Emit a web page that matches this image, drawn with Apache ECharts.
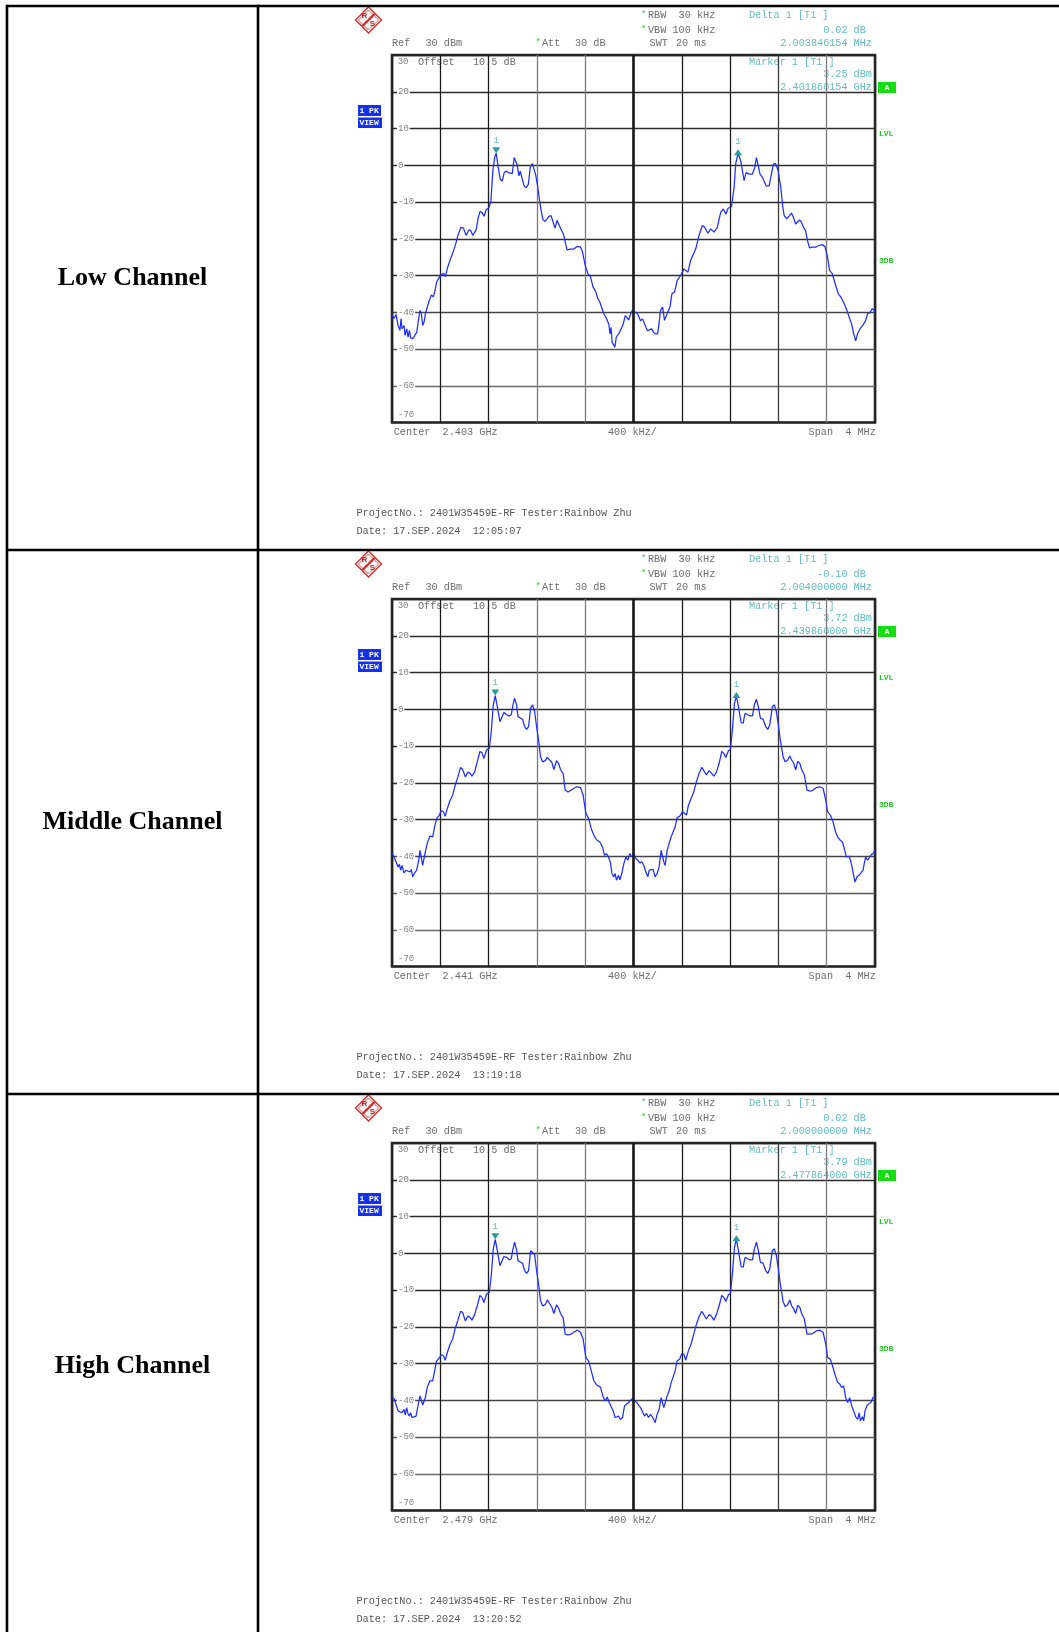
<!DOCTYPE html>
<html>
<head>
<meta charset="utf-8">
<script src="https://cdn.jsdelivr.net/npm/echarts@6/dist/echarts.min.js"></script>
<style>
html,body{margin:0;padding:0;background:#fff;}
#c{width:1059px;height:1632px;}
</style>
</head>
<body>
<div id="c"></div>
<script>
// ---------------- DATA ----------------
const channelNames = ['Low Channel', 'Middle Channel', 'High Channel'];
const centerFreqs = ['2.403 GHz', '2.441 GHz', '2.479 GHz'];
const deltaLevels = ['0.02', '-0.10', '0.02'];
const deltaFreqs = ['2.003846154', '2.004000000', '2.000000000'];
const markerLevels = ['3.25', '3.72', '3.79'];
const markerFreqs = ['2.401860154', '2.439860000', '2.477864000'];
const dateStamps = ['17.SEP.2024  12:05:07', '17.SEP.2024  13:19:18', '17.SEP.2024  13:20:52'];
const projectLine = 'ProjectNo.: 2401W35459E-RF Tester:Rainbow Zhu';
const levelMin = -70, levelMax = 30, levelStep = 10;   // dBm
const freqMin = -2, freqMax = 2, freqStep = 0.4;       // MHz offset from center

const lowFreq = [-2.000,-1.983,-1.967,-1.950,-1.934,-1.925,-1.917,-1.900,-1.892,-1.878,
-1.867,-1.856,-1.845,-1.828,-1.812,-1.795,-1.779,-1.768,-1.757,-1.746,
-1.734,-1.723,-1.707,-1.690,-1.674,-1.657,-1.646,-1.629,-1.613,-1.596,
-1.574,-1.557,-1.541,-1.519,-1.497,-1.474,-1.452,-1.430,-1.408,-1.386,
-1.364,-1.347,-1.331,-1.303,-1.286,-1.270,-1.253,-1.237,-1.220,-1.198,
-1.181,-1.165,-1.148,-1.137,-1.120,-1.104,-1.087,-1.071,-1.054,-1.037,
-1.021,-1.004,-0.988,-0.976,-0.965,-0.949,-0.938,-0.921,-0.905,-0.888,
-0.871,-0.855,-0.838,-0.827,-0.811,-0.794,-0.777,-0.766,-0.750,-0.733,
-0.716,-0.700,-0.683,-0.667,-0.650,-0.633,-0.617,-0.600,-0.578,-0.567,
-0.550,-0.523,-0.495,-0.467,-0.440,-0.423,-0.401,-0.379,-0.357,-0.335,
-0.313,-0.296,-0.279,-0.263,-0.246,-0.228,-0.205,-0.194,-0.186,-0.177,
-0.166,-0.154,-0.143,-0.129,-0.114,-0.100,-0.085,-0.068,-0.057,-0.040,
-0.028,-0.011,0.000,0.017,0.035,0.058,0.075,0.092,0.115,0.132,
0.150,0.166,0.183,0.200,0.210,0.224,0.241,0.257,0.268,0.285,
0.302,0.318,0.340,0.362,0.390,0.418,0.451,0.473,0.515,0.542,
0.570,0.589,0.617,0.639,0.667,0.694,0.722,0.744,0.766,0.783,
0.811,0.833,0.846,0.866,0.888,0.916,0.932,0.957,0.985,1.004,
1.018,1.032,1.048,1.068,1.082,1.098,1.123,1.142,1.159,1.176,
1.198,1.220,1.237,1.248,1.270,1.292,1.308,1.325,1.342,1.358,
1.375,1.391,1.408,1.425,1.441,1.458,1.480,1.508,1.530,1.563,
1.585,1.607,1.624,1.646,1.662,1.679,1.696,1.718,1.745,1.768,
1.790,1.806,1.823,1.840,1.856,1.878,1.900,1.923,1.939,1.956,
1.978,2.000];
const lowLevel = [-40.8,-41.7,-40.6,-43.6,-44.9,-41.7,-44.5,-43.6,-46.3,-44.5,
-46.8,-44.9,-47.0,-47.2,-47.7,-45.4,-41.7,-39.5,-40.4,-43.6,
-42.6,-40.4,-38.5,-36.7,-35.3,-35.8,-34.4,-31.7,-30.8,-29.9,
-29.4,-30.3,-28.0,-25.8,-23.9,-21.6,-18.9,-16.9,-17.1,-19.1,
-17.6,-17.8,-19.1,-17.6,-14.3,-12.5,-12.9,-13.9,-12.1,-11.6,
-9.8,-1.6,2.4,3.25,-0.6,-3.8,-4.3,-2.0,-1.6,-2.0,
-2.5,-2.3,2.1,2.3,0.3,-2.9,-1.6,-3.8,-5.7,-6.1,
-5.2,-0.6,0.5,0.3,-2.5,-5.7,-9.8,-12.1,-14.8,-15.3,
-14.6,-13.9,-13.7,-15.3,-17.1,-15.0,-16.2,-17.5,-18.9,-20.7,
-23.0,-22.8,-22.8,-22.1,-22.2,-23.5,-27.1,-29.4,-30.3,-33.1,
-34.4,-36.3,-37.2,-37.6,-40.4,-41.4,-43.2,-45.9,-44.1,-48.2,
-48.6,-49.5,-46.8,-47.3,-45.4,-45.0,-43.2,-40.9,-40.5,-42.1,
-40.9,-39.5,-39.1,-40.0,-40.5,-42.3,-41.8,-43.2,-45.0,-44.8,
-44.5,-45.4,-45.9,-45.9,-43.5,-39.5,-38.6,-42.2,-42.6,-39.9,
-38.6,-35.0,-34.5,-31.3,-30.0,-28.2,-29.1,-25.9,-22.8,-19.2,
-16.4,-16.9,-18.5,-17.3,-18.2,-16.9,-12.8,-11.9,-13.3,-11.7,
-11.3,-6.1,0.3,3.27,1.2,-4.2,-2.0,-2.4,-2.4,-0.6,
2.1,1.9,-2.4,-3.3,-2.9,-5.6,-5.6,-2.4,0.3,0.5,
-1.5,-6.1,-11.5,-13.7,-14.6,-13.7,-13.0,-14.2,-16.0,-16.4,
-14.9,-15.5,-16.9,-17.8,-20.5,-22.5,-22.3,-22.3,-21.9,-21.6,
-22.1,-25.0,-28.6,-29.5,-31.3,-33.2,-35.0,-35.9,-37.7,-39.5,
-41.7,-43.1,-45.8,-47.8,-45.8,-44.4,-43.5,-42.2,-40.4,-40.2,
-39.0,-39.8];

const midFreq = [-2.000,-1.983,-1.967,-1.950,-1.939,-1.928,-1.917,-1.901,-1.884,-1.868,
-1.851,-1.840,-1.829,-1.812,-1.796,-1.779,-1.768,-1.757,-1.746,-1.735,
-1.724,-1.708,-1.686,-1.663,-1.647,-1.630,-1.608,-1.592,-1.575,-1.559,
-1.542,-1.520,-1.498,-1.476,-1.454,-1.432,-1.415,-1.393,-1.371,-1.354,
-1.338,-1.316,-1.294,-1.272,-1.255,-1.239,-1.217,-1.194,-1.178,-1.161,
-1.145,-1.128,-1.106,-1.090,-1.073,-1.051,-1.029,-1.012,-1.001,-0.985,
-0.968,-0.957,-0.941,-0.919,-0.902,-0.886,-0.869,-0.852,-0.836,-0.819,
-0.803,-0.786,-0.770,-0.753,-0.731,-0.714,-0.698,-0.676,-0.659,-0.637,
-0.621,-0.604,-0.582,-0.566,-0.543,-0.516,-0.494,-0.466,-0.439,-0.417,
-0.394,-0.372,-0.350,-0.328,-0.306,-0.279,-0.257,-0.240,-0.223,-0.207,
-0.190,-0.179,-0.163,-0.152,-0.141,-0.124,-0.113,-0.097,-0.080,-0.063,
-0.047,-0.030,-0.014,0.003,0.019,0.036,0.052,0.069,0.086,0.102,
0.119,0.130,0.146,0.163,0.179,0.196,0.212,0.229,0.240,0.251,
0.262,0.279,0.295,0.312,0.328,0.345,0.361,0.383,0.406,0.422,
0.439,0.455,0.477,0.499,0.521,0.543,0.566,0.582,0.604,0.626,
0.643,0.665,0.687,0.709,0.731,0.748,0.764,0.786,0.803,0.819,
0.836,0.852,0.869,0.891,0.908,0.924,0.946,0.968,0.985,1.001,
1.018,1.034,1.051,1.073,1.095,1.112,1.128,1.150,1.167,1.183,
1.200,1.216,1.239,1.255,1.277,1.294,1.310,1.327,1.343,1.360,
1.377,1.393,1.415,1.437,1.465,1.487,1.515,1.542,1.570,1.592,
1.608,1.630,1.652,1.674,1.691,1.708,1.730,1.746,1.763,1.785,
1.801,1.818,1.834,1.851,1.868,1.884,1.901,1.912,1.923,1.939,
1.956,1.972,1.989,2.000];
const midLevel = [-39.1,-40.2,-41.5,-42.9,-42.2,-43.8,-42.5,-44.5,-43.8,-43.6,
-44.3,-43.6,-45.6,-44.5,-43.8,-41.1,-38.4,-38.5,-42.5,-42.5,
-38.8,-36.5,-34.5,-34.7,-32.0,-29.7,-28.8,-27.6,-27.9,-29.1,
-27.0,-24.9,-23.4,-20.6,-18.4,-15.8,-16.4,-18.4,-17.1,-17.4,
-18.2,-17.1,-14.3,-11.5,-11.8,-13.4,-11.1,-10.6,-6.1,1.2,
3.72,0.7,-3.4,-3.8,-0.9,-1.5,-1.8,-1.5,0.7,3.0,
1.2,-2.0,-2.5,-2.7,-4.7,-5.5,-4.7,0.3,1.2,-0.6,
-4.7,-8.4,-12.9,-14.3,-14.0,-13.1,-12.7,-14.5,-16.4,-14.0,
-14.7,-16.4,-17.6,-22.0,-22.5,-22.0,-21.5,-21.1,-21.3,-23.4,
-28.4,-29.7,-32.5,-34.3,-35.5,-36.1,-37.5,-39.7,-39.3,-40.2,
-41.8,-44.7,-45.6,-44.7,-46.5,-45.2,-46.4,-44.7,-42.0,-40.2,
-41.1,-39.3,-40.2,-39.3,-40.6,-41.1,-41.8,-41.5,-42.5,-44.3,
-45.6,-43.8,-44.3,-43.6,-45.6,-44.7,-42.9,-38.4,-37.9,-41.5,
-42.5,-38.4,-36.5,-34.7,-34.3,-32.0,-29.5,-29.1,-27.9,-28.2,
-28.8,-26.1,-24.3,-22.5,-19.7,-17.5,-15.8,-16.1,-17.9,-16.7,
-17.3,-18.2,-17.1,-14.7,-11.5,-12.0,-13.1,-11.3,-10.9,-5.6,
1.6,3.62,0.7,-3.6,-3.8,-1.1,-1.5,-1.8,-1.8,1.2,
2.7,0.7,-2.5,-2.7,-4.7,-5.5,-4.3,0.7,1.2,-0.6,
-4.3,-8.4,-12.9,-14.3,-13.8,-12.7,-13.8,-14.7,-16.5,-14.2,
-14.7,-16.4,-17.9,-22.0,-22.3,-22.0,-21.3,-21.1,-21.5,-24.7,
-27.9,-28.8,-30.6,-33.4,-34.7,-35.5,-36.1,-37.9,-40.2,-40.0,
-41.5,-44.3,-47.0,-45.6,-45.2,-45.6,-43.8,-41.8,-40.2,-41.1,
-40.2,-39.5,-39.1,-38.4];

const highFreq = [-2.000,-1.983,-1.967,-1.950,-1.934,-1.917,-1.901,-1.890,-1.879,-1.868,
-1.857,-1.846,-1.834,-1.818,-1.801,-1.785,-1.768,-1.757,-1.746,-1.735,
-1.724,-1.708,-1.686,-1.663,-1.647,-1.630,-1.608,-1.592,-1.575,-1.559,
-1.542,-1.520,-1.498,-1.476,-1.454,-1.432,-1.415,-1.393,-1.371,-1.354,
-1.338,-1.316,-1.294,-1.272,-1.255,-1.239,-1.217,-1.194,-1.178,-1.161,
-1.145,-1.128,-1.106,-1.090,-1.073,-1.051,-1.029,-1.012,-1.001,-0.985,
-0.968,-0.957,-0.941,-0.919,-0.902,-0.886,-0.869,-0.852,-0.836,-0.819,
-0.803,-0.786,-0.770,-0.753,-0.731,-0.714,-0.698,-0.676,-0.659,-0.637,
-0.621,-0.604,-0.582,-0.566,-0.543,-0.516,-0.494,-0.466,-0.439,-0.417,
-0.394,-0.372,-0.350,-0.328,-0.306,-0.290,-0.273,-0.251,-0.234,-0.218,
-0.201,-0.185,-0.168,-0.152,-0.141,-0.124,-0.108,-0.091,-0.074,-0.058,
-0.041,-0.025,-0.008,0.008,0.025,0.041,0.058,0.074,0.091,0.108,
0.124,0.141,0.157,0.168,0.179,0.196,0.212,0.229,0.240,0.251,
0.262,0.279,0.295,0.312,0.328,0.345,0.361,0.383,0.400,0.417,
0.433,0.455,0.477,0.499,0.521,0.543,0.566,0.582,0.604,0.626,
0.643,0.665,0.687,0.709,0.731,0.748,0.764,0.786,0.803,0.819,
0.836,0.852,0.869,0.891,0.908,0.924,0.946,0.968,0.985,1.001,
1.018,1.034,1.051,1.073,1.095,1.112,1.128,1.150,1.167,1.183,
1.200,1.216,1.239,1.255,1.277,1.294,1.310,1.327,1.343,1.360,
1.377,1.393,1.415,1.437,1.465,1.487,1.515,1.542,1.570,1.592,
1.608,1.630,1.652,1.674,1.691,1.708,1.724,1.741,1.757,1.774,
1.790,1.807,1.823,1.840,1.857,1.868,1.879,1.895,1.906,1.917,
1.934,1.950,1.967,1.983,2.000];
const highLevel = [-39.1,-39.5,-41.1,-42.9,-43.4,-43.4,-42.5,-44.0,-42.0,-43.6,
-44.3,-43.4,-44.7,-45.2,-44.3,-41.5,-38.8,-38.5,-41.3,-41.1,
-39.3,-36.5,-34.7,-34.7,-32.0,-29.3,-28.5,-27.6,-27.9,-29.1,
-27.0,-24.9,-23.4,-20.4,-18.2,-15.8,-16.1,-18.4,-17.1,-17.4,
-18.2,-16.7,-14.3,-11.5,-12.0,-13.4,-11.1,-10.6,-6.1,1.2,
3.79,0.7,-3.4,-3.8,-0.9,-1.1,-1.8,-1.5,0.7,3.0,
0.9,-2.0,-2.5,-2.7,-4.7,-5.5,-4.7,0.7,1.2,-0.4,
-4.7,-8.4,-12.9,-14.3,-14.0,-12.7,-13.1,-14.7,-16.4,-14.0,
-14.9,-16.4,-17.6,-22.0,-22.2,-22.0,-21.5,-20.9,-21.5,-23.4,
-28.4,-29.3,-32.0,-34.7,-35.8,-35.8,-36.5,-39.1,-40.2,-39.1,
-40.6,-40.6,-42.9,-44.7,-45.2,-44.3,-45.2,-44.7,-41.5,-41.5,
-40.6,-40.2,-39.5,-39.1,-40.6,-41.1,-42.0,-42.5,-44.3,-43.6,
-44.7,-43.8,-44.3,-45.2,-46.1,-43.8,-42.5,-39.3,-38.8,-42.0,
-41.5,-38.8,-37.5,-35.2,-34.7,-32.0,-29.3,-28.8,-27.3,-27.5,
-29.1,-26.5,-24.7,-22.0,-19.3,-17.3,-15.8,-16.1,-17.9,-16.7,
-17.0,-18.2,-16.7,-14.3,-11.5,-12.0,-13.1,-11.3,-10.9,-5.6,
1.6,3.81,0.7,-3.6,-3.8,-1.1,-1.5,-1.8,-1.8,1.2,
3.0,0.7,-2.5,-2.7,-4.7,-5.5,-4.3,0.7,1.2,-0.6,
-4.3,-8.4,-13.1,-14.5,-14.0,-12.7,-14.3,-15.2,-16.4,-14.2,
-14.7,-16.4,-17.9,-22.0,-22.0,-21.8,-21.1,-20.9,-21.5,-24.7,
-28.4,-28.8,-31.1,-33.6,-35.2,-35.6,-36.5,-36.1,-39.3,-40.6,
-39.3,-41.5,-42.9,-44.5,-45.2,-43.4,-45.6,-44.5,-45.6,-42.9,
-41.5,-40.9,-40.6,-39.3,-39.1];

// ---------------- LAYOUT / STYLE ----------------
const traces = [[lowFreq, lowLevel], [midFreq, midLevel], [highFreq, highLevel]];
const ROW_H = 544;
const PLOT = { left: 392, top: 55, width: 483, height: 367.5 };
const MONO = '"Liberation Mono","DejaVu Sans Mono",monospace';
const GREY = '#6c6c6c';
const TICK = '#808080';
const TEAL = '#62bcbc';
const MARK = '#2a9c9c';
const GREEN = '#1fcc1f';
const TRACE = '#1f2eff';

function pairs(fs, ls) {
  const n = Math.min(fs.length, ls.length);
  const out = [];
  for (let i = 0; i < n; i++) out.push([fs[i], ls[i]]);
  return out;
}
function peakOf(data, fromF, toF) {
  let best = null;
  data.forEach(p => { if (p[0] >= fromF && p[0] <= toF && (!best || p[1] > best[1])) best = p; });
  return best;
}

const graphics = [];
// table lines
const TL = { stroke: '#000', lineWidth: 2.6 };
[[7, 6, 1059, 6], [7, 550, 1059, 550], [7, 1094, 1059, 1094], [7, 4.7, 7, 1632], [258, 4.7, 258, 1632]].forEach(l => {
  graphics.push({ type: 'line', silent: true, z: 20, shape: { x1: l[0], y1: l[1], x2: l[2], y2: l[3] }, style: TL });
});

function rowGraphics(r) {
  const dy = r * ROW_H;
  const txt = (x, y, text, fill, extra, z) => graphics.push({
    type: 'text', x: x, y: y + dy, z: (z === undefined ? 10 : z), silent: true,
    style: Object.assign({ text: text, fill: fill, fontSize: 10.2, fontFamily: MONO, verticalAlign: 'middle', align: 'left' }, extra || {})
  });
  const valUnit = (y, num, unit, z) => {
    txt(847.6, y, num, TEAL, { align: 'right' }, z);
    txt(853.6, y, unit, TEAL, {}, z);
  };
  // row title
  txt(132.5, 278, channelNames[r], '#000', { fontFamily: '"Liberation Serif","Times New Roman",serif', fontSize: 26, fontWeight: 'bold', align: 'center' });
  // R&S logo
  graphics.push({
    type: 'group', x: 368.5, y: 20 + dy, z: 10, silent: true,
    children: [
      { type: 'polygon', shape: { points: [[0, -13], [13, 0], [0, 13], [-13, 0]] }, style: { fill: '#fff', stroke: '#d42a2a', lineWidth: 1.3 } },
      { type: 'polygon', shape: { points: [[0, -10], [10, 0], [0, 10], [-10, 0]] }, style: { fill: 'none', stroke: '#d42a2a', lineWidth: 0.8 } },
      { type: 'line', shape: { x1: -6, y1: 6, x2: 6, y2: -6 }, style: { stroke: '#d42a2a', lineWidth: 2.4 } },
      { type: 'text', x: -4, y: -4, style: { text: 'R', fill: '#c41f1f', fontSize: 8, fontWeight: 'bold', fontFamily: '"Liberation Sans",sans-serif', align: 'center', verticalAlign: 'middle' } },
      { type: 'text', x: 4, y: 4, style: { text: 'S', fill: '#c41f1f', fontSize: 8, fontWeight: 'bold', fontFamily: '"Liberation Sans",sans-serif', align: 'center', verticalAlign: 'middle' } }
    ]
  });
  // header
  txt(641, 14.5, '*', GREEN, { fontSize: 9 });
  txt(648, 15.7, 'RBW  30 kHz', GREY);
  txt(641, 29.5, '*', GREEN, { fontSize: 9 });
  txt(648, 30.7, 'VBW 100 kHz', GREY);
  txt(392, 43.7, 'Ref', GREY);
  txt(425.5, 43.7, '30 dBm', GREY);
  txt(535.5, 42.5, '*', GREEN, { fontSize: 9 });
  txt(542, 43.7, 'Att', GREY);
  txt(575, 43.7, '30 dB', GREY);
  txt(649.6, 43.7, 'SWT', GREY);
  txt(676, 43.7, '20 ms', GREY);
  txt(749, 15.7, 'Delta 1 [T1 ]', TEAL);
  valUnit(30.7, deltaLevels[r], 'dB');
  valUnit(43.7, deltaFreqs[r], 'MHz');
  // inside plot (drawn below grid lines)
  txt(397.7, 62, '30', TICK, { fontSize: 9 }, -1);
  txt(418, 62, 'Offset', GREY, {}, -1);
  txt(473, 62, '10.5 dB', GREY, {}, -1);
  txt(749, 62, 'Marker 1 [T1 ]', TEAL, {}, -1);
  valUnit(74.3, markerLevels[r], 'dBm', -1);
  valUnit(87, markerFreqs[r], 'GHz', -1);
  // side boxes
  graphics.push({ type: 'rect', silent: true, z: 10, shape: { x: 358, y: 105 + dy, width: 23, height: 11 }, style: { fill: '#1431f0' } });
  graphics.push({ type: 'rect', silent: true, z: 10, shape: { x: 358, y: 117.5 + dy, width: 24, height: 10.5 }, style: { fill: '#1431f0' } });
  txt(359.5, 110.7, '1 PK', '#fff', { fontSize: 8, fontWeight: 'bold' });
  txt(359.5, 123, 'VIEW', '#fff', { fontSize: 8, fontWeight: 'bold' });
  graphics.push({ type: 'rect', silent: true, z: 10, shape: { x: 878, y: 82 + dy, width: 18, height: 11 }, style: { fill: '#14dd14' } });
  txt(887, 87.6, 'A', '#fff', { fontSize: 8, fontWeight: 'bold', align: 'center' });
  txt(879, 133.5, 'LVL', GREEN, { fontSize: 8, fontWeight: 'bold' });
  txt(879, 260.5, '3DB', GREEN, { fontSize: 8, fontWeight: 'bold' });
  // bottom
  txt(393.7, 432, 'Center  ' + centerFreqs[r], GREY);
  txt(608, 432, '400 kHz/', GREY);
  txt(808.6, 432, 'Span  4 MHz', GREY);
  txt(356.5, 513, projectLine, '#555');
  txt(356.5, 531, 'Date: ' + dateStamps[r], '#555');
}

const grids = [], xAxes = [], yAxes = [], series = [];
const xLineColors = ['#222', '#1c1c1c', '#1c1c1c', '#7a7a7a', '#7a7a7a', '#1c1c1c', '#1c1c1c', '#1c1c1c', '#3a3a3a', '#7a7a7a', '#222'];
const yLineColors = ['#222', '#6a6a6a', '#5a5a5a', '#444', '#2c2c2c', '#2c2c2c', '#2c2c2c', '#2c2c2c', '#2c2c2c', '#2c2c2c', '#222'];

for (let r = 0; r < 3; r++) {
  rowGraphics(r);
  grids.push({
    left: PLOT.left, top: PLOT.top + r * ROW_H, width: PLOT.width, height: PLOT.height,
    containLabel: false, outerBoundsMode: 'none',
    show: true, borderColor: '#2b2b2b', borderWidth: 2.6, backgroundColor: 'transparent'
  });
  xAxes.push({
    type: 'value', gridIndex: r, min: freqMin, max: freqMax, interval: freqStep,
    axisLine: { show: false }, axisTick: { show: false }, axisLabel: { show: false },
    splitLine: { show: true, lineStyle: { color: xLineColors, width: 1.3 } }
  });
  yAxes.push({
    type: 'value', gridIndex: r, position: 'left', min: levelMin, max: levelMax, interval: levelStep,
    axisLine: { show: false }, axisTick: { show: false },
    splitLine: { show: true, lineStyle: { color: yLineColors, width: 1.3 } },
    axisLabel: {
      inside: true, margin: 5, color: TICK, fontSize: 9, fontFamily: MONO,
      backgroundColor: '#fff', padding: [0, 1, 0, 1],
      formatter: v => (v === levelMax || v === levelMin) ? '' : String(v)
    }
  });
  yAxes.push({
    type: 'value', gridIndex: r, position: 'left', min: levelMin, max: levelMax, interval: levelStep,
    axisLine: { show: false }, axisTick: { show: false }, splitLine: { show: false },
    axisLabel: {
      inside: true, margin: 6, color: TICK, fontSize: 9, fontFamily: MONO, showMinLabel: true,
      verticalAlign: 'bottom', padding: [0, 0, 3, 0],
      formatter: v => v === levelMin ? String(v) : ''
    }
  });
  const data = pairs(traces[r][0], traces[r][1]);
  const p1 = peakOf(data, freqMin, 0);
  const p2 = peakOf(data, 0, freqMax);
  const mkLabel = { show: true, formatter: '1', position: 'top', distance: 3, color: TEAL, fontSize: 9, fontFamily: MONO };
  series.push({
    type: 'line', xAxisIndex: r, yAxisIndex: r * 2, data: data,
    showSymbol: false, symbol: 'none', smooth: false, animation: false, z: 3,
    lineStyle: { color: TRACE, width: 1.25 },
    markLine: {
      silent: true, symbol: 'none', label: { show: false }, animation: false,
      lineStyle: { color: '#1a1a1a', width: 2.6, type: 'solid' },
      data: [{ xAxis: 0 }]
    },
    markPoint: {
      silent: true, animation: false,
      data: [
        { coord: p1, symbol: 'triangle', symbolRotate: 180, symbolSize: [8, 6], symbolOffset: [0, -3], itemStyle: { color: MARK }, label: Object.assign({}, mkLabel, { distance: 2 }) },
        { coord: p2, symbol: 'triangle', symbolSize: [8, 6], symbolOffset: [0, -1], itemStyle: { color: MARK }, label: mkLabel }
      ]
    }
  });
}

const chart = echarts.init(document.getElementById('c'), null, { renderer: 'canvas', width: 1059, height: 1632 });
chart.setOption({
  backgroundColor: '#fff',
  animation: false,
  grid: grids,
  xAxis: xAxes,
  yAxis: yAxes,
  series: series,
  graphic: { elements: graphics }
});
</script>
</body>
</html>
